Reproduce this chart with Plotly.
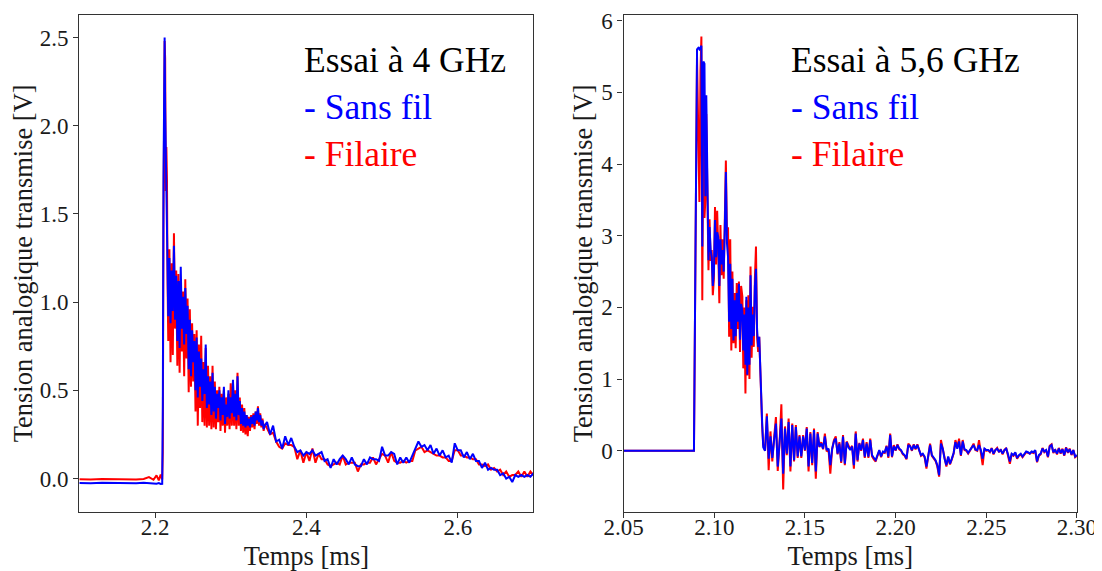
import plotly.graph_objects as go

# ---------------- Essai à 4 GHz ----------------
t4_base = [2.100, 2.115, 2.130, 2.145, 2.160, 2.175, 2.185, 2.192, 2.198, 2.202, 2.205, 2.2075, 2.2095]
sf4_base = [-0.025, -0.027, -0.024, -0.026, -0.025, -0.027, -0.024, -0.027, -0.026, -0.029, -0.026, -0.031, -0.030]
fi4_base = [-0.004, -0.006, -0.003, -0.005, -0.004, -0.006, -0.002, 0.008, -0.007, 0.018, -0.010, 0.022, -0.005]

t4_peak = [2.2103, 2.2112, 2.2120, 2.2127, 2.2134, 2.2142, 2.2150, 2.2158, 2.2166]
sf4_peak = [0.40, 1.70, 2.46, 2.50, 2.10, 1.80, 1.55, 1.35, 1.05]
fi4_peak = [0.15, 1.50, 2.40, 2.48, 2.38, 1.63, 1.88, 1.69, 1.10]

t4_decay = [2.2175, 2.2190, 2.2205, 2.2220, 2.2235, 2.2250, 2.2265, 2.2280, 2.2295, 2.2310,
            2.2325, 2.2340, 2.2355, 2.2370, 2.2385, 2.2400, 2.2415, 2.2430, 2.2445, 2.2460,
            2.2475, 2.2490, 2.2505, 2.2520, 2.2535, 2.2550, 2.2565, 2.2580, 2.2595, 2.2610,
            2.2625, 2.2640, 2.2655, 2.2670, 2.2685, 2.2700, 2.2715, 2.2730, 2.2745, 2.2760,
            2.2775, 2.2790, 2.2805, 2.2820, 2.2835, 2.2850, 2.2865, 2.2880, 2.2895, 2.2910,
            2.2925, 2.2940, 2.2955, 2.2970, 2.2985, 2.3000, 2.3015, 2.3030, 2.3045, 2.3060,
            2.3075, 2.3090, 2.3105, 2.3120, 2.3135, 2.3150, 2.3165, 2.3180, 2.3195, 2.3210,
            2.3225, 2.3240, 2.3255, 2.3270, 2.3285, 2.3300, 2.3315, 2.3330, 2.3345, 2.3360,
            2.3375, 2.3390, 2.3405, 2.3420, 2.3435, 2.3450]
sf4_decay = [0.92, 1.25, 0.88, 1.18, 0.95, 1.32, 0.90, 1.15, 0.78, 1.12,
             0.74, 1.20, 0.85, 1.03, 0.76, 1.08, 0.82, 0.98, 0.62, 0.90,
             0.58, 0.84, 0.66, 0.78, 0.50, 0.80, 0.46, 0.72, 0.52, 0.68,
             0.44, 0.62, 0.48, 0.76, 0.40, 0.58, 0.42, 0.55, 0.36, 0.60,
             0.38, 0.52, 0.34, 0.48, 0.40, 0.50, 0.33, 0.46, 0.36, 0.52,
             0.31, 0.42, 0.35, 0.50, 0.34, 0.46, 0.37, 0.56, 0.35, 0.48,
             0.33, 0.58, 0.36, 0.44, 0.31, 0.40, 0.30, 0.38, 0.29, 0.36,
             0.30, 0.34, 0.29, 0.35, 0.31, 0.36, 0.30, 0.38, 0.33, 0.40,
             0.32, 0.36, 0.30, 0.33, 0.28, 0.30]
fi4_decay = [0.78, 1.30, 0.66, 1.22, 0.70, 1.39, 0.85, 1.18, 0.64, 1.16,
             0.60, 1.12, 0.72, 1.06, 0.58, 1.13, 0.68, 1.02, 0.49, 0.96,
             0.52, 0.88, 0.55, 0.82, 0.38, 0.84, 0.30, 0.76, 0.40, 0.81,
             0.32, 0.66, 0.30, 0.74, 0.29, 0.64, 0.30, 0.58, 0.28, 0.64,
             0.29, 0.55, 0.28, 0.50, 0.32, 0.52, 0.27, 0.48, 0.30, 0.50,
             0.26, 0.46, 0.30, 0.48, 0.28, 0.54, 0.30, 0.55, 0.30, 0.50,
             0.28, 0.60, 0.30, 0.46, 0.27, 0.42, 0.26, 0.40, 0.25, 0.36,
             0.24, 0.35, 0.27, 0.36, 0.29, 0.37, 0.28, 0.38, 0.31, 0.41,
             0.30, 0.37, 0.29, 0.34, 0.27, 0.31]

t4_tail = [2.348, 2.352, 2.356, 2.360, 2.364, 2.368, 2.372, 2.376, 2.380, 2.384,
           2.388, 2.392, 2.396, 2.400, 2.404, 2.408, 2.412, 2.416, 2.420, 2.424,
           2.428, 2.432, 2.436, 2.440, 2.444, 2.448, 2.452, 2.456, 2.460, 2.464,
           2.468, 2.472, 2.476, 2.480, 2.484, 2.488, 2.492, 2.496, 2.500, 2.504,
           2.508, 2.512, 2.516, 2.520, 2.524, 2.528, 2.532, 2.536, 2.540, 2.544,
           2.548, 2.552, 2.556, 2.560, 2.564, 2.568, 2.572, 2.576, 2.580, 2.584,
           2.588, 2.592, 2.596, 2.600, 2.604, 2.608, 2.612, 2.616, 2.620, 2.624,
           2.628, 2.632, 2.636, 2.640, 2.644, 2.648, 2.652, 2.656, 2.660, 2.664,
           2.668, 2.672, 2.676, 2.680, 2.684, 2.688, 2.692, 2.696, 2.700]
sf4_tail = [0.32, 0.25, 0.30, 0.21, 0.22, 0.17, 0.24, 0.19, 0.23, 0.18,
            0.15, 0.16, 0.13, 0.15, 0.14, 0.16, 0.13, 0.14, 0.15, 0.10,
            0.11, 0.06, 0.11, 0.08, 0.11, 0.13, 0.11, 0.08, 0.12, 0.08,
            0.07, 0.07, 0.11, 0.08, 0.12, 0.11, 0.11, 0.10, 0.18, 0.13,
            0.13, 0.15, 0.14, 0.08, 0.12, 0.09, 0.12, 0.09, 0.13, 0.16,
            0.21, 0.18, 0.19, 0.16, 0.19, 0.14, 0.17, 0.13, 0.16, 0.12,
            0.13, 0.09, 0.20, 0.16, 0.16, 0.12, 0.15, 0.11, 0.14, 0.10,
            0.10, 0.06, 0.09, 0.05, 0.06, 0.05, 0.05, 0.02, 0.03, 0.00,
            0.01, -0.02, 0.02, 0.01, 0.02, 0.01, 0.02, 0.01, 0.03]
fi4_tail = [0.28, 0.25, 0.26, 0.21, 0.18, 0.17, 0.20, 0.19, 0.19, 0.18,
            0.11, 0.16, 0.09, 0.15, 0.10, 0.17, 0.09, 0.14, 0.11, 0.11,
            0.08, 0.07, 0.08, 0.09, 0.08, 0.13, 0.08, 0.09, 0.09, 0.09,
            0.04, 0.08, 0.08, 0.09, 0.09, 0.12, 0.08, 0.11, 0.14, 0.13,
            0.09, 0.15, 0.10, 0.09, 0.09, 0.10, 0.09, 0.10, 0.10, 0.16,
            0.17, 0.18, 0.15, 0.16, 0.15, 0.14, 0.13, 0.13, 0.12, 0.12,
            0.10, 0.10, 0.16, 0.16, 0.13, 0.13, 0.12, 0.12, 0.11, 0.11,
            0.08, 0.08, 0.07, 0.08, 0.05, 0.06, 0.04, 0.05, 0.02, 0.04,
            0.01, 0.02, 0.02, 0.04, 0.01, 0.04, 0.01, 0.04, 0.02]

# ---------------- Essai à 5,6 GHz ----------------
t56_base = [2.0500, 2.0600, 2.0700, 2.0800, 2.0888]
sf56_base = [0.00, 0.00, 0.00, 0.00, 0.00]
fi56_base = [0.00, 0.00, 0.00, 0.00, 0.00]

t56_burst = [2.0905, 2.0912, 2.0918, 2.0924, 2.0929, 2.0934, 2.0940, 2.0946, 2.0951, 2.0956,
             2.0962, 2.0968, 2.0974, 2.0980, 2.0986, 2.0992, 2.0998, 2.1004, 2.1010, 2.1016,
             2.1022, 2.1028, 2.1034, 2.1040, 2.1046, 2.1052, 2.1058, 2.1064, 2.1070, 2.1076,
             2.1082, 2.1088, 2.1094, 2.1100, 2.1106, 2.1112, 2.1118, 2.1124, 2.1130, 2.1136,
             2.1142, 2.1148, 2.1155, 2.1160, 2.1166, 2.1172, 2.1177, 2.1182, 2.1188, 2.1194,
             2.1200, 2.1206, 2.1212, 2.1218, 2.1224, 2.1230, 2.1236, 2.1242, 2.1248, 2.1256,
             2.1264, 2.1270]
sf56_burst = [5.60, 5.62, 5.60, 5.63, 5.65, 2.85, 5.43, 5.40, 3.55, 4.96,
              3.30, 2.66, 3.12, 2.80, 2.70, 2.30, 2.50, 3.22, 2.70, 3.05,
              2.98, 2.30, 2.95, 2.60, 2.80, 2.50, 3.10, 3.89, 2.90, 2.70,
              1.80, 2.61, 1.70, 2.40, 1.54, 2.10, 1.60, 2.20, 1.80, 2.33,
              1.55, 2.05, 1.95, 1.40, 1.90, 1.20, 2.15, 1.06, 2.00, 1.20,
              2.45, 1.47, 1.90, 1.60, 2.30, 2.54, 1.70, 1.45, 1.59, 0.89,
              0.40, 0.05]
fi56_burst = [5.50, 4.43, 3.47, 5.30, 5.78, 2.10, 4.80, 3.25, 3.50, 4.70,
              3.20, 2.52, 3.23, 2.65, 2.80, 2.17, 2.40, 3.40, 2.60, 3.35,
              2.80, 2.06, 3.15, 2.45, 2.95, 2.40, 3.20, 4.05, 3.00, 3.12,
              1.59, 2.95, 1.40, 2.50, 1.50, 2.20, 1.43, 2.34, 1.70, 2.36,
              1.38, 2.30, 2.15, 1.15, 2.00, 0.80, 2.10, 1.05, 2.17, 1.00,
              2.57, 1.30, 2.01, 1.45, 2.40, 2.85, 1.60, 1.38, 1.59, 0.89,
              0.35, 0.09]

t56_tail = [2.128, 2.129, 2.130, 2.131, 2.132, 2.133, 2.134, 2.135, 2.136, 2.137,
            2.138, 2.139, 2.140, 2.141, 2.142, 2.143, 2.144, 2.145, 2.146, 2.147,
            2.148, 2.149, 2.150, 2.151, 2.152, 2.153, 2.154, 2.155, 2.156, 2.157,
            2.158, 2.159, 2.160, 2.161, 2.162, 2.163, 2.164, 2.165, 2.166, 2.167,
            2.168, 2.169, 2.170, 2.171, 2.172, 2.173, 2.174, 2.175, 2.176, 2.177,
            2.178, 2.179, 2.180, 2.181, 2.182, 2.183, 2.184, 2.185, 2.186, 2.187,
            2.188, 2.189, 2.190, 2.191, 2.192, 2.193, 2.194, 2.195, 2.196, 2.197,
            2.198, 2.199, 2.200, 2.201, 2.202, 2.203, 2.204, 2.205, 2.206, 2.207,
            2.208, 2.209, 2.210, 2.211, 2.212, 2.213, 2.214, 2.215, 2.216, 2.217,
            2.218, 2.219, 2.220, 2.221, 2.222, 2.223, 2.224, 2.225, 2.226, 2.227,
            2.228, 2.229, 2.230, 2.231, 2.232, 2.233, 2.234, 2.235, 2.236, 2.237,
            2.238, 2.239, 2.240, 2.241, 2.242, 2.243, 2.244, 2.245, 2.246, 2.247,
            2.248, 2.249, 2.250, 2.251, 2.252, 2.253, 2.254, 2.255, 2.256, 2.257,
            2.258, 2.259, 2.260, 2.261, 2.262, 2.263, 2.264, 2.265, 2.266, 2.267,
            2.268, 2.269, 2.270, 2.271, 2.272, 2.273, 2.274, 2.275, 2.276, 2.277,
            2.278, 2.279, 2.280, 2.281, 2.282, 2.283, 2.284, 2.285, 2.286, 2.287,
            2.288, 2.289, 2.290, 2.291, 2.292, 2.293, 2.294, 2.295, 2.296, 2.297,
            2.298, 2.299, 2.300]
sf56_tail = [0.00, 0.48, -0.11, 0.20, -0.10, 0.15, 0.38, -0.22, 0.10, 0.45,
             -0.32, 0.31, -0.04, 0.40, -0.22, 0.36, -0.13, 0.33, -0.08, 0.20,
             -0.08, 0.20, 0.01, 0.31, -0.22, 0.24, -0.17, 0.29, -0.29, 0.24,
             0.06, 0.10, 0.03, 0.20, 0.01, 0.03, -0.20, 0.03, 0.13, 0.17,
             -0.04, 0.10, -0.15, 0.20, -0.18, 0.12, 0.05, 0.01, 0.06, -0.20,
             0.24, -0.13, 0.10, 0.01, 0.15, -0.08, 0.10, -0.08, 0.15, -0.06,
             -0.10, -0.13, -0.06, 0.01, -0.08, -0.01, -0.02, 0.06, -0.08, 0.22,
             -0.08, 0.06, 0.01, 0.08, 0.03, 0.01, -0.04, -0.06, -0.11, 0.08,
             0.06, 0.01, 0.08, 0.03, 0.08, 0.01, -0.06, -0.04, -0.08, -0.22,
             -0.04, 0.08, -0.06, -0.10, -0.13, -0.20, -0.34, 0.10, 0.03, -0.11,
             -0.20, -0.08, -0.18, -0.11, -0.03, 0.12, 0.03, 0.13, -0.06, 0.13,
             0.02, 0.01, -0.03, 0.01, 0.05, 0.08, 0.02, 0.01, 0.08, 0.01,
             -0.11, 0.03, 0.01, 0.01, -0.01, 0.03, -0.04, 0.01, 0.03, -0.01,
             0.01, -0.04, 0.01, 0.03, -0.05, -0.15, -0.04, -0.06, -0.02, -0.10,
             -0.06, -0.04, -0.08, -0.04, -0.01, -0.02, -0.04, -0.01, -0.02, 0.01,
             -0.15, -0.06, -0.04, 0.03, -0.01, 0.01, -0.08, 0.06, 0.08, -0.02,
             0.01, -0.04, 0.03, -0.03, 0.02, -0.06, 0.04, -0.02, 0.02, -0.05,
             0.01, -0.08, -0.06]
fi56_tail = [0.00, 0.52, -0.27, 0.27, -0.15, 0.18, 0.47, -0.28, 0.10, 0.65,
             -0.54, 0.34, -0.06, 0.45, -0.29, 0.38, -0.15, 0.36, -0.10, 0.22,
             -0.10, 0.22, 0.00, 0.33, -0.29, 0.26, -0.20, 0.31, -0.39, 0.26,
             0.05, 0.12, 0.02, 0.24, -0.01, 0.02, -0.32, 0.02, 0.15, 0.20,
             -0.05, 0.12, -0.17, 0.22, -0.20, 0.13, 0.06, 0.02, 0.07, -0.25,
             0.27, -0.15, 0.11, 0.00, 0.17, -0.10, 0.12, -0.10, 0.17, -0.08,
             -0.12, -0.15, -0.07, 0.00, -0.09, -0.02, -0.03, 0.07, -0.10, 0.24,
             -0.09, 0.08, 0.00, 0.09, 0.02, 0.00, -0.05, -0.07, -0.12, 0.10,
             0.07, 0.00, 0.09, 0.02, 0.09, 0.00, -0.07, -0.05, -0.09, -0.25,
             -0.05, 0.10, -0.07, -0.11, -0.14, -0.22, -0.36, 0.15, 0.02, -0.12,
             -0.22, -0.09, -0.19, -0.12, -0.04, 0.15, 0.05, 0.17, -0.07, 0.15,
             0.01, 0.00, -0.04, 0.00, 0.06, 0.10, 0.01, 0.00, 0.15, 0.00,
             -0.20, 0.03, 0.00, 0.01, -0.02, 0.04, -0.05, 0.01, 0.04, -0.02,
             0.02, -0.05, 0.01, 0.04, -0.06, -0.18, -0.05, -0.07, -0.03, -0.11,
             -0.07, -0.05, -0.09, -0.05, -0.02, -0.03, -0.04, -0.02, -0.03, 0.00,
             -0.16, -0.07, -0.05, 0.04, -0.02, 0.01, -0.09, 0.07, 0.09, -0.03,
             0.02, -0.05, 0.04, -0.04, 0.03, -0.07, 0.05, -0.03, 0.03, -0.06,
             0.01, -0.09, -0.07]

t_4ghz = t4_base + t4_peak + t4_decay + t4_tail
v_4ghz_sans_fil = sf4_base + sf4_peak + sf4_decay + sf4_tail
v_4ghz_filaire = fi4_base + fi4_peak + fi4_decay + fi4_tail

t_56ghz = t56_base + t56_burst + t56_tail
v_56ghz_sans_fil = sf56_base + sf56_burst + sf56_tail
v_56ghz_filaire = fi56_base + fi56_burst + fi56_tail

x_ticks_4 = [2.2, 2.4, 2.6]
x_labels_4 = ["2.2", "2.4", "2.6"]
y_ticks_4 = [0.0, 0.5, 1.0, 1.5, 2.0, 2.5]
y_labels_4 = ["0.0", "0.5", "1.0", "1.5", "2.0", "2.5"]
x_ticks_56 = [2.05, 2.10, 2.15, 2.20, 2.25, 2.30]
x_labels_56 = ["2.05", "2.10", "2.15", "2.20", "2.25", "2.30"]
y_ticks_56 = [0, 1, 2, 3, 4, 5, 6]
y_labels_56 = ["0", "1", "2", "3", "4", "5", "6"]

RED = "#ff0000"
BLUE = "#0000ff"
SERIF = "Liberation Serif"

fig = go.Figure()
fig.add_trace(go.Scatter(x=t_4ghz, y=v_4ghz_filaire, mode="lines", name="Filaire",
                         line=dict(color=RED, width=2), xaxis="x", yaxis="y", showlegend=False))
fig.add_trace(go.Scatter(x=t_4ghz, y=v_4ghz_sans_fil, mode="lines", name="Sans fil",
                         line=dict(color=BLUE, width=2), xaxis="x", yaxis="y", showlegend=False))
fig.add_trace(go.Scatter(x=t_56ghz, y=v_56ghz_filaire, mode="lines", name="Filaire",
                         line=dict(color=RED, width=2), xaxis="x2", yaxis="y2", showlegend=False))
fig.add_trace(go.Scatter(x=t_56ghz, y=v_56ghz_sans_fil, mode="lines", name="Sans fil",
                         line=dict(color=BLUE, width=2), xaxis="x2", yaxis="y2", showlegend=False))

axis_style = dict(
    showline=True, mirror=True, linecolor="#333333", linewidth=1.3,
    ticks="outside", ticklen=5, tickwidth=1.2, tickcolor="#333333",
    showgrid=False, zeroline=False, automargin=False,
    tickfont=dict(family=SERIF, size=23, color="#1a1a1a"),
)
title_font = dict(family=SERIF, size=26.5, color="#1a1a1a")

# the page adds an 8 px body margin, so the figure is 8 px smaller than the window
W, H = 1094, 563
YDOM = [0.1053, 0.9876]
fig.update_layout(
    width=W, height=H,
    margin=dict(l=0, r=0, t=0, b=0),
    paper_bgcolor="white", plot_bgcolor="white",
    xaxis=dict(domain=[0.0652, 0.4803], range=[2.1, 2.7], anchor="y",
               tickvals=x_ticks_4, ticktext=x_labels_4, ticklabelstandoff=-10,
               title=dict(text="Temps [ms]", font=title_font, standoff=11), **axis_style),
    yaxis=dict(domain=YDOM, range=[-0.188, 2.628], anchor="x",
               tickvals=y_ticks_4, ticktext=y_labels_4,
               title=dict(text="Tension analogique transmise [V]", font=title_font, standoff=2), **axis_style),
    xaxis2=dict(domain=[0.5627, 0.9771], range=[2.05, 2.30], anchor="y2",
                tickvals=x_ticks_56, ticktext=x_labels_56, ticklabelstandoff=-10,
                title=dict(text="Temps [ms]", font=title_font, standoff=11), **axis_style),
    yaxis2=dict(domain=YDOM, range=[-0.85, 6.08], anchor="x2",
                tickvals=y_ticks_56, ticktext=y_labels_56,
                title=dict(text="Tension analogique transmise [V]", font=title_font, standoff=1), **axis_style),
)

ann_font = 35.5
def label(x, y, text, color):
    fig.add_annotation(x=x, y=y, xref="paper", yref="paper", xanchor="left", yanchor="middle",
                       text=text, showarrow=False,
                       font=dict(family=SERIF, size=ann_font, color=color))

label(0.2686, 0.9085, "Essai à 4 GHz", "#000000")
label(0.2686, 0.8242, "- Sans fil", BLUE)
label(0.2686, 0.7410, "- Filaire", RED)
label(0.7143, 0.9085, "Essai à 5,6 GHz", "#000000")
label(0.7143, 0.8242, "- Sans fil", BLUE)
label(0.7143, 0.7410, "- Filaire", RED)

fig.write_html("out.html")
